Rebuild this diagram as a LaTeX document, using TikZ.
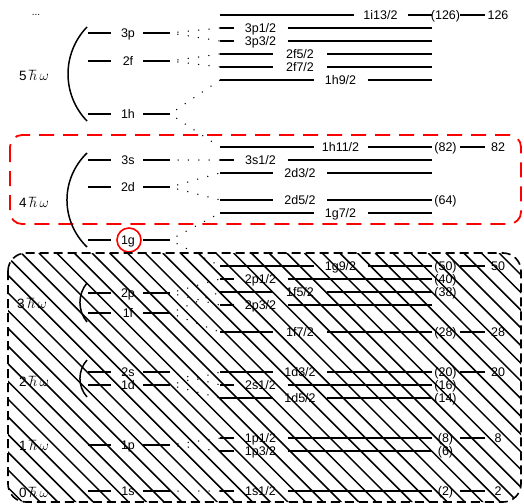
\documentclass[tikz,border=0pt]{standalone}
\usepackage{fontspec}
\setmainfont{Liberation Sans}
\begin{document}
\begin{tikzpicture}[x=1pt,y=-1pt,
  every node/.style={inner sep=0pt, font=\fontsize{12.5}{15}\selectfont},
  lvl/.style={line width=1.4pt},
  dotcon/.style={line width=1.5pt, line cap=round, dash pattern=on 0pt off 10.4pt, dash phase=2.4pt},
  brk/.style={line width=1.5pt},
  txt/.style={anchor=base},
  hbar/.style={anchor=center, font=\fontsize{13.5}{16}\selectfont},
  hatchline/.style={line width=1.5pt},
  redbox/.style={draw=red, line width=1.8pt, dash pattern=on 15pt off 9pt, rounded corners=12pt},
  blackbox/.style={draw=black, line width=1.6pt, dash pattern=on 9pt off 5pt, rounded corners=18pt},
]
\useasboundingbox (0,0) rectangle (524,503);

% red dashed box (4 hbar omega)
\draw[redbox] (10,135) rectangle (521,224);

% left levels
\foreach \n/\y in {3p/33,2f/61,1h/114,3s/160,2d/187,1g/240,2p/293,1f/313,2s/372,1d/385,1p/445,1s/491}{
  \coordinate (La\n) at (88,\y);
  \coordinate (Lc\n) at (111,\y);
  \coordinate (Ld\n) at (143,\y);
  \coordinate (Lb\n) at (170,\y);
  \node[txt] (L\n) at (128,{\y+4.4}) {\n};
  \draw[lvl] (La\n) -- (Lc\n);
  \draw[lvl] (Ld\n) -- (Lb\n);
}

% right sublevels
\foreach \n/\y/\cx in {1i13/15/380.5, 3p1/28/260.5, 3p3/41/260.5, 2f5/54/300, 2f7/67/300,
  1h9/80/340.5, 1h11/147/340.5, 3s1/160/260.5, 2d3/173/300, 2d5/200/300, 1g7/213/340.5,
  1g9/266/340.5, 2p1/279/260.5, 1f5/292/300, 2p3/305/260.5, 1f7/332/300, 1d3/372/300,
  2s1/385/260.5, 1d5/398/300, 1p1/438/260.5, 1p3/451/260.5, 1s1/491/260.5}{
  \coordinate (Ra\n) at (220,\y);
  \coordinate (Rc\n) at ({\cx-27},\y);
  \coordinate (Rd\n) at ({\cx+27},\y);
  \coordinate (Rb\n) at (432,\y);
  \node[txt] (R\n) at (\cx,{\y+4.4}) {\n/2};
  \draw[lvl] (Ra\n) -- (Rc\n);
  \draw[lvl] (Rd\n) -- (Rb\n);
}

% occupation numbers
\foreach \m/\y in {126/15, 82/147, 64/200, 50/266, 40/279, 38/292, 28/332, 20/372, 16/385, 14/398, 8/438, 6/451, 2/491}{
  \node[txt] (P\m) at (445.5,{\y+4.4}) {(\m)};
}
% magic numbers
\foreach \m/\y in {126/15, 82/147, 50/266, 28/332, 20/372, 8/438, 2/491}{
  \coordinate (Ma\m) at (460,\y);
  \coordinate (Mb\m) at (485,\y);
  \draw[lvl] (Ma\m) -- (Mb\m);
  \node[txt] (M\m) at (498,{\y+4.4}) {\m};
}

% dotted splittings
\foreach \l/\r in {3p/3p1, 3p/3p3, 2f/2f5, 2f/2f7, 1h/1h9, 1h/1h11, 3s/3s1, 2d/2d3, 2d/2d5,
  1g/1g7, 1g/1g9, 2p/2p1, 2p/2p3, 1f/1f5, 1f/1f7, 2s/2s1, 1d/1d3, 1d/1d5, 1p/1p1, 1p/1p3, 1s/1s1}{
  \draw[dotcon] (Lb\l) -- (Ra\r);
}

% brackets
\coordinate (B5t) at (87,27);  \coordinate (B5b) at (87,121);
\coordinate (B4t) at (87,153); \coordinate (B4b) at (87,247);
\coordinate (B3t) at (87,283); \coordinate (B3b) at (87,322);
\coordinate (B2t) at (87,360); \coordinate (B2b) at (87,397);
\draw[brk] (B5t) .. controls +(-25.3,26.2) and +(-25.3,-26.2) .. (B5b);
\draw[brk] (B4t) .. controls +(-26.7,26) and +(-26.7,-26) .. (B4b);
\draw[brk] (B3t) .. controls +(-9.4,11.3) and +(-9.4,-11.3) .. (B3b);
\draw[brk] (B2t) .. controls +(-9.4,10.5) and +(-9.4,-10.5) .. (B2b);

% shell labels
\node[hbar] (E5) at (34,75) {5\,$\hbar\,\omega$};
\node[hbar] (E4) at (34,202) {4\,$\hbar\,\omega$};
\node[hbar] (E3) at (32,303) {3\,$\hbar\,\omega$};
\node[hbar] (E2) at (34,381) {2\,$\hbar\,\omega$};
\node[hbar] (E1) at (34,445) {1\,$\hbar\,\omega$};
\node[hbar] (E0) at (34,492) {0\,$\hbar\,\omega$};
\node[txt, font=\fontsize{10}{12}\selectfont] (dots) at (36,16) {...};

% red circle around 1g
\node[circle, draw=red, line width=1.6pt, minimum size=24pt] (C1g) at (129,240) {};

% hatched region
\begin{scope}
  \clip[rounded corners=18pt] (8,253) rectangle (521,502);
  \foreach \k in {0,...,45}{
    \draw[hatchline] ({-262+\k*17.7},253) -- ++(262,262);
  }
\end{scope}
\draw[blackbox] (8,253) rectangle (521,502);
\end{tikzpicture}
\end{document}
